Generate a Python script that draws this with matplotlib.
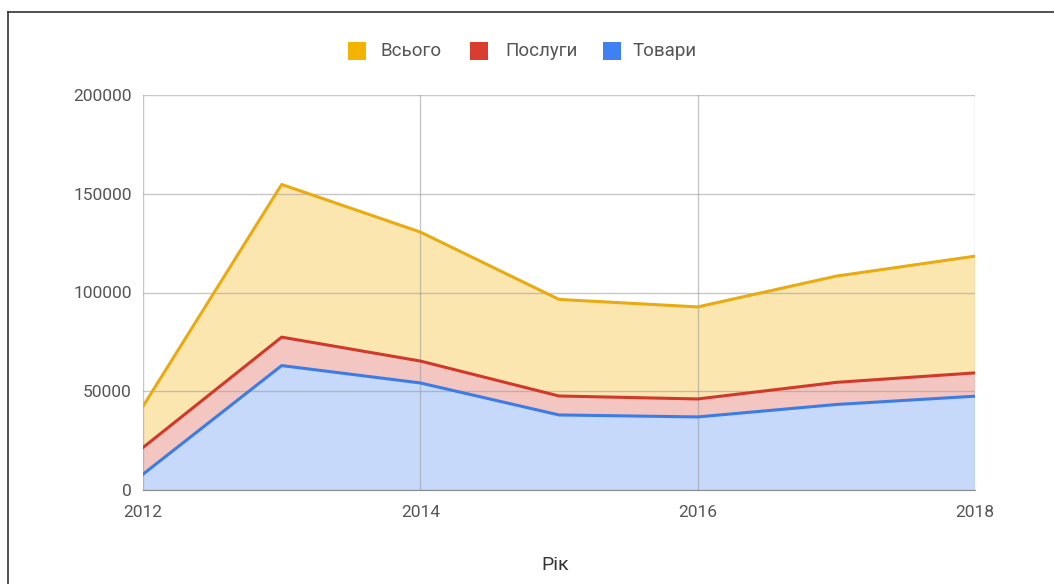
import numpy as np
import matplotlib
matplotlib.use("Agg")
import matplotlib.pyplot as plt
from matplotlib.patches import Rectangle
from matplotlib.lines import Line2D

plt.rcParams['font.family'] = ['Roboto', 'DejaVu Sans']

years = [2012, 2013, 2014, 2015, 2016, 2017, 2018]
tovary = [8000, 63000, 54200, 38000, 37000, 43300, 47500]
posluhy = [13500, 14400, 11100, 9600, 9100, 11200, 11800]
vsoho = [20900, 77300, 65300, 48900, 46600, 53800, 59100]

legend_labels = ['Всього', 'Послуги', 'Товари']
line_colors = ['#3d7ce6', '#d03a2b', '#e8ab12']   # Товари, Послуги, Всього
fill_colors = ['#c6d9fa', '#f4c6c2', '#fce6b0']
legend_colors = ['#f2b400', '#db3c30', '#3f80f2']

yticks = [0, 50000, 100000, 150000, 200000]
xticks = [2012, 2014, 2016, 2018]

fig = plt.figure(figsize=(10.54, 5.84), dpi=100)
ax = fig.add_axes([143/1054, 1-490/584, (975-143)/1054, (490-95)/584])

series = [tovary, posluhy, vsoho]
ax.stackplot(years, *series, colors=fill_colors, alpha=1.0, zorder=2, linewidth=0)
cum = np.cumsum(np.array(series, dtype=float), axis=0)
for c, col in zip(cum, line_colors):
    ax.plot(years, c, color=col, lw=2.2, zorder=4, solid_joinstyle='round')

ax.set_xlim(2012, 2018)
ax.set_ylim(0, 200000)
ax.set_yticks(yticks)
ax.set_yticklabels([str(v) for v in yticks])
ax.set_xticks(xticks)
ax.set_xticklabels([str(v) for v in xticks])
ax.grid(True, color='#9a9a9a', lw=1, zorder=3, alpha=0.55)
ax.set_axisbelow(False)
for s in ['top', 'right', 'left']:
    ax.spines[s].set_visible(False)
ax.spines['bottom'].set_color('#8a8a8a')
ax.spines['bottom'].set_zorder(5)
ax.tick_params(length=0, labelsize=12.5, colors='#555555')
ax.tick_params(axis='y', pad=8)
ax.tick_params(axis='x', pad=11)
ax.xaxis.label.set_visible(True)
fig.text(555/1054, 1-565/584, 'Рік', ha='center', va='center',
         fontsize=14, color='#333333')

# legend (manual, centred row at top)
leg_sq = [(348, 'Всього', 380), (470, 'Послуги', 505), (603, 'Товари', 633)]
W, H = 1054, 584
for (sx, txt, tx), col in zip(leg_sq, legend_colors):
    fig.add_artist(Rectangle((sx/W, 1-60/H), 18/W, 18/H, transform=fig.transFigure,
                             facecolor=col, edgecolor='none'))
    fig.text(tx/W, 1-51/H, txt, ha='left', va='center', fontsize=13.5, color='#555555')

# frame lines (crop border)
fig.add_artist(Line2D([8/W, 1], [1-12/H, 1-12/H], color='#333333', lw=1.2))
fig.add_artist(Line2D([8/W, 8/W], [0, 1-12/H], color='#333333', lw=1.2))

fig.savefig('out.png', dpi=100)
